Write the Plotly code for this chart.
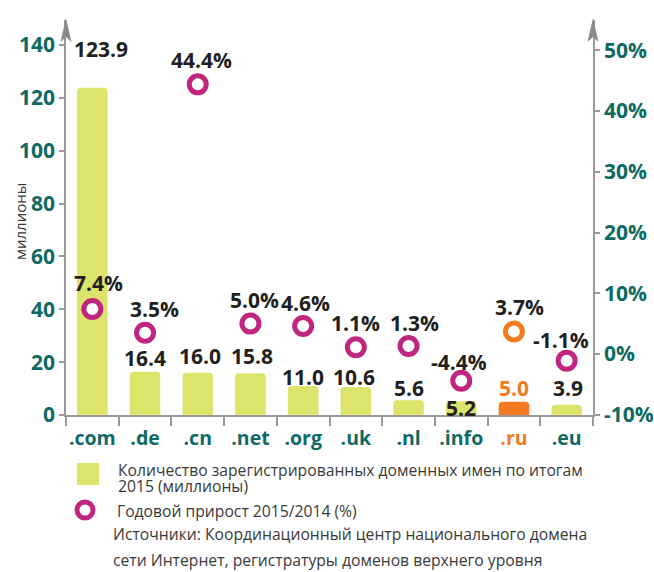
import plotly.graph_objects as go

# ---------------- data ----------------
categories = [".com", ".de", ".cn", ".net", ".org", ".uk", ".nl", ".info", ".ru", ".eu"]
domains_mln = [123.9, 16.4, 16.0, 15.8, 11.0, 10.6, 5.6, 5.2, 5.0, 3.9]
growth_pct = [7.4, 3.5, 44.4, 5.0, 4.6, 1.1, 1.3, -4.4, 3.7, -1.1]
left_ticks = [0, 20, 40, 60, 80, 100, 120, 140]
right_ticks = [-10, 0, 10, 20, 30, 40, 50]
highlight = ".ru"

y_title = "миллионы"
legend_bar_text = ["Количество зарегистрированных доменных имен по итогам", "2015 (миллионы)"]
legend_growth_text = "Годовой прирост 2015/2014 (%)"
source_text = ["Источники: Координационный центр национального домена",
               "сети Интернет, регистратуры доменов верхнего уровня"]

# ---------------- styles ----------------
YELLOW = "#DDE46C"
ORANGE = "#F37A21"
MAGENTA = "#C0267F"
TEAL = "#0E6A62"
DARK = "#231F20"
GRAY = "#9A9A9A"
TEXT = "#3A3A3A"
FONT = "Open Sans"

W, H = 654, 572
L, R, T, B = 66, 61, 20, 157
PW, PH = W - L - R, H - T - B


def px(x):
    return (x - L) / PW


def py(y):
    return (H - B - y) / PH


# label offsets (pixels) for value labels
bar_label_shift = [(9, 39), (0, 14), (2, 17), (1.5, 17), (0, 9), (-2, 10), (0, 12), (0, -7), (0, 14), (1, 17)]
pct_label_shift = [(6, 26), (9, 24), (4, 24), (4.5, 23.5), (2, 23), (0, 24), (6, 23), (-2, 19), (6, 25), (-6, 21)]

bar_colors = [ORANGE if c == highlight else YELLOW for c in categories]
circle_colors = [ORANGE if c == highlight else MAGENTA for c in categories]
xtick_text = [f"<span style='color:{ORANGE}'>{c}</span>" if c == highlight else c for c in categories]

fig = go.Figure()
fig.add_trace(go.Bar(
    x=categories, y=domains_mln, width=0.58,
    marker=dict(color=bar_colors, cornerradius=4, line_width=0),
    hoverinfo="skip", showlegend=False,
))
fig.add_trace(go.Scatter(
    x=categories, y=growth_pct, yaxis="y2", mode="markers",
    marker=dict(symbol="circle", size=17, color="white",
                line=dict(width=5, color=circle_colors)),
    hoverinfo="skip", showlegend=False,
))

annotations = []
for i, (c, v) in enumerate(zip(categories, domains_mln)):
    dx, dy = bar_label_shift[i]
    annotations.append(dict(
        x=c, y=v, xref="x", yref="y", text=f"{v:.1f}", showarrow=False,
        xanchor="center", yanchor="middle", xshift=dx, yshift=dy,
        font=dict(family=FONT, size=21, weight="bold",
                  color=ORANGE if c == highlight else DARK),
    ))
for i, (c, v) in enumerate(zip(categories, growth_pct)):
    dx, dy = pct_label_shift[i]
    annotations.append(dict(
        x=c, y=v, xref="x", yref="y2", text=f"{v:.1f}%", showarrow=False,
        xanchor="center", yanchor="middle", xshift=dx, yshift=dy,
        font=dict(family=FONT, size=21, weight="bold", color=DARK),
    ))

# axis title
annotations.append(dict(
    x=px(20), y=py(222), xref="paper", yref="paper", text=y_title, textangle=-90,
    showarrow=False, xanchor="center", yanchor="middle",
    font=dict(family=FONT, size=15, color=TEXT),
))

# legend & source texts
txt_font = dict(family=FONT, size=15.7, color=TEXT)
for line, yy in zip(legend_bar_text, [470, 486]):
    annotations.append(dict(x=px(117), y=py(yy), xref="paper", yref="paper", text=line,
                            showarrow=False, xanchor="left", yanchor="middle", font=txt_font,
                            borderpad=0))
annotations.append(dict(x=px(115), y=py(511), xref="paper", yref="paper", text=legend_growth_text,
                        showarrow=False, xanchor="left", yanchor="middle", font=txt_font))
for line, yy in zip(source_text, [534, 560]):
    annotations.append(dict(x=px(111), y=py(yy), xref="paper", yref="paper", text=line,
                            showarrow=False, xanchor="left", yanchor="middle", font=txt_font))

shapes = []
# arrowheads on the two vertical axes
for ax_x in (L, W - R):
    path = (f"M {px(ax_x - 5.5)},{py(42)} L {px(ax_x)},{py(18)} "
            f"L {px(ax_x + 5.5)},{py(42)} L {px(ax_x)},{py(37)} Z")
    shapes.append(dict(type="path", xref="paper", yref="paper", path=path,
                       fillcolor="#8A8A8A", line=dict(width=0)))
# legend swatches
shapes.append(dict(type="rect", xref="paper", yref="paper",
                   x0=px(77), x1=px(99), y0=py(485), y1=py(463),
                   fillcolor=YELLOW, line=dict(width=0)))
shapes.append(dict(type="circle", xref="paper", yref="paper",
                   x0=px(77), x1=px(93), y0=py(518), y1=py(502),
                   fillcolor="white", line=dict(width=5, color=MAGENTA)))

tickfont = dict(family=FONT, size=21, weight="bold", color=TEAL)
fig.update_layout(
    width=W, height=H,
    margin=dict(l=L, r=R, t=T, b=B, autoexpand=False),
    paper_bgcolor="white", plot_bgcolor="white",
    bargap=0.4,
    xaxis=dict(type="category", range=[-0.5, 9.5], tickmode="array",
               tickvals=categories, ticktext=xtick_text, tickangle=0,
               showline=True, linecolor=GRAY, linewidth=1.5,
               ticks="outside", tickson="boundaries", ticklen=9, tickcolor=GRAY, tickwidth=1.5,
               ticklabelstandoff=5,
               showgrid=False, zeroline=False, automargin=False,
               tickfont=dict(family=FONT, size=19.5, weight="bold", color=TEAL)),
    yaxis=dict(range=[0, 149.5], tickmode="array", tickvals=left_ticks,
               showline=True, linecolor=GRAY, linewidth=1.5,
               ticks="outside", ticklen=5, tickcolor=GRAY, tickwidth=1.5,
               showgrid=False, zeroline=False, automargin=False, tickfont=tickfont),
    yaxis2=dict(overlaying="y", side="right", range=[-10.05, 55.0],
                tickmode="array", tickvals=right_ticks, ticktext=[f"{v}%" for v in right_ticks],
                showline=True, linecolor=GRAY, linewidth=1.5,
                ticks="outside", ticklen=5, tickcolor=GRAY, tickwidth=1.5,
                showgrid=False, zeroline=False, automargin=False, tickfont=tickfont),
    annotations=annotations,
    shapes=shapes,
    showlegend=False,
)

fig.write_html("out.html", config={"displayModeBar": False},
               post_script="document.body.style.margin='0';document.body.style.overflow='hidden';")
